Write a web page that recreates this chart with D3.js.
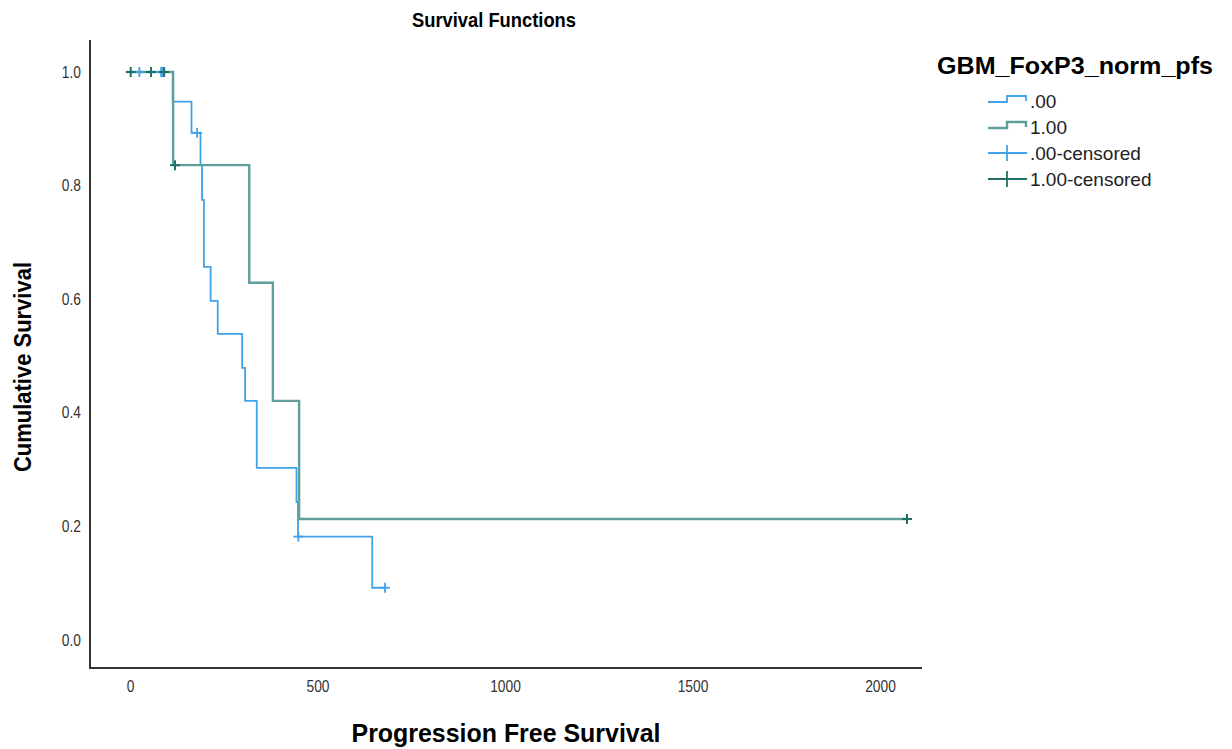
<!DOCTYPE html>
<html lang="en">
<head>
    <meta charset="UTF-8">
    <title>Survival Functions</title>
    <script src="https://d3js.org/d3.v7.min.js"></script>
    <style>
        body { margin: 0; background: #fff; }
        text { font-family: "Liberation Sans", Arial, sans-serif; }
        .tick text { font-size: 16px; fill: #333; }
    </style>
</head>
<body>
    <div id="chart"></div>
    <script>
        // Kaplan-Meier steps (time, survival after the step)
        const blueTimes = [0, 114, 164, 188, 192, 197, 215, 234, 299, 307, 338, 444, 448, 646, 680];
        const blueSurv = [1, 0.948, 0.893, 0.836, 0.775, 0.657, 0.597, 0.539, 0.479, 0.421, 0.303, 0.243, 0.182, 0.092, 0.092];
        const blueCensored = [25, 83, 87, 179, 449, 680];

        const tealTimes = [0, 115, 318, 381, 451, 2072];
        const tealSurv = [1, 0.836, 0.629, 0.421, 0.213, 0.213];
        const tealCensored = [2, 56, 91, 120, 2072];

        const xTicks = [0, 500, 1000, 1500, 2000];
        const yTicks = [0, 0.2, 0.4, 0.6, 0.8, 1.0];
        const legendLabels = [".00", "1.00", ".00-censored", "1.00-censored"];

        const blueLine = "#40a2ea";
        const tealLine = "#5f9e9a";
        const tealMark = "#22706a";

        const width = 1232, height = 749;
        const frameL = 90, frameR = 922, frameT = 40, frameB = 668;

        const svg = d3.select("#chart").append("svg")
            .attr("width", width)
            .attr("height", height);

        const x = d3.scaleLinear().domain([0, 2000]).range([130, 880]);
        const y = d3.scaleLinear().domain([0, 1]).range([640, 72]);

        // SPSS text is a bit narrow, squeeze the glyphs
        function narrow(sel, k) {
            sel.each(function () {
                const w = this.getComputedTextLength();
                d3.select(this).attr("textLength", w * k).attr("lengthAdjust", "spacingAndGlyphs");
            });
        }

        // axes (no tick marks, like SPSS)
        svg.append("g")
            .attr("transform", `translate(${frameL},0)`)
            .call(d3.axisLeft(y).tickValues(yTicks).tickSize(0).tickPadding(9).tickFormat(d3.format(".1f")))
            .call(g => g.select(".domain").remove())
            .call(g => narrow(g.selectAll("text"), 0.86));

        svg.append("g")
            .attr("transform", `translate(0,${frameB})`)
            .call(d3.axisBottom(x).tickValues(xTicks).tickSize(0).tickPadding(13).tickFormat(d3.format("d")))
            .call(g => g.select(".domain").remove())
            .call(g => narrow(g.selectAll("text"), 0.86));

        svg.append("path")
            .attr("d", `M${frameL},${frameT}V${frameB}H${frameR}`)
            .attr("fill", "none")
            .attr("stroke", "#333")
            .attr("stroke-width", 2);

        const line = d3.line()
            .x(d => x(d[0]))
            .y(d => y(d[1]))
            .curve(d3.curveStepAfter);

        function survAt(times, surv, t) {
            let s = surv[0];
            times.forEach((tt, i) => { if (tt <= t) s = surv[i]; });
            return s;
        }

        function drawCross(g, cx, cy, color, w) {
            g.append("line").attr("x1", cx - 5).attr("x2", cx + 5).attr("y1", cy).attr("y2", cy)
                .attr("stroke", color).attr("stroke-width", w);
            g.append("line").attr("x1", cx).attr("x2", cx).attr("y1", cy - 5).attr("y2", cy + 5)
                .attr("stroke", color).attr("stroke-width", w);
        }

        const plot = svg.append("g");

        plot.append("path")
            .datum(blueTimes.map((t, i) => [t, blueSurv[i]]))
            .attr("d", line)
            .attr("fill", "none")
            .attr("stroke", blueLine)
            .attr("stroke-width", 1.8);

        plot.append("path")
            .datum(tealTimes.map((t, i) => [t, tealSurv[i]]))
            .attr("d", line)
            .attr("fill", "none")
            .attr("stroke", tealLine)
            .attr("stroke-width", 2.4);

        blueCensored.forEach(t => drawCross(plot, x(t), y(survAt(blueTimes, blueSurv, t)), blueLine, 1.8));
        tealCensored.forEach(t => drawCross(plot, x(t), y(survAt(tealTimes, tealSurv, t)), tealMark, 2));

        // titles
        svg.append("text")
            .attr("x", 494).attr("y", 27)
            .attr("text-anchor", "middle")
            .style("font-size", "21px").style("font-weight", "bold")
            .attr("textLength", 164).attr("lengthAdjust", "spacingAndGlyphs")
            .text("Survival Functions");

        svg.append("text")
            .attr("x", 506).attr("y", 742)
            .attr("text-anchor", "middle")
            .style("font-size", "25px").style("font-weight", "bold")
            .attr("textLength", 309).attr("lengthAdjust", "spacingAndGlyphs")
            .text("Progression Free Survival");

        svg.append("text")
            .attr("transform", "translate(31,367) rotate(-90)")
            .attr("text-anchor", "middle")
            .style("font-size", "23px").style("font-weight", "bold")
            .attr("textLength", 210).attr("lengthAdjust", "spacingAndGlyphs")
            .text("Cumulative Survival");

        // legend
        const legend = svg.append("g");
        legend.append("text")
            .attr("x", 937).attr("y", 74)
            .style("font-size", "24px").style("font-weight", "bold")
            .attr("textLength", 276).attr("lengthAdjust", "spacingAndGlyphs")
            .text("GBM_FoxP3_norm_pfs");

        const rowY = [101, 127, 153, 179];
        [blueLine, tealLine].forEach((c, i) => {
            legend.append("path")
                .attr("transform", `translate(0,${rowY[i] + 1})`)
                .attr("d", "M988,0H1007V-6H1026V-1")
                .attr("fill", "none")
                .attr("stroke", c)
                .attr("stroke-width", i === 0 ? 1.8 : 2.4);
        });
        [blueLine, tealMark].forEach((c, i) => {
            const cy = rowY[i + 2];
            legend.append("line").attr("x1", 988).attr("x2", 1027).attr("y1", cy).attr("y2", cy)
                .attr("stroke", c).attr("stroke-width", 1.8);
            legend.append("line").attr("x1", 1007).attr("x2", 1007).attr("y1", cy - 8).attr("y2", cy + 8)
                .attr("stroke", c).attr("stroke-width", 1.8);
        });
        legendLabels.forEach((lab, i) => {
            legend.append("text")
                .attr("x", 1030).attr("y", rowY[i])
                .attr("dy", "0.36em")
                .style("font-size", "19px")
                .style("fill", "#222")
                .text(lab);
        });
    </script>
</body>
</html>
